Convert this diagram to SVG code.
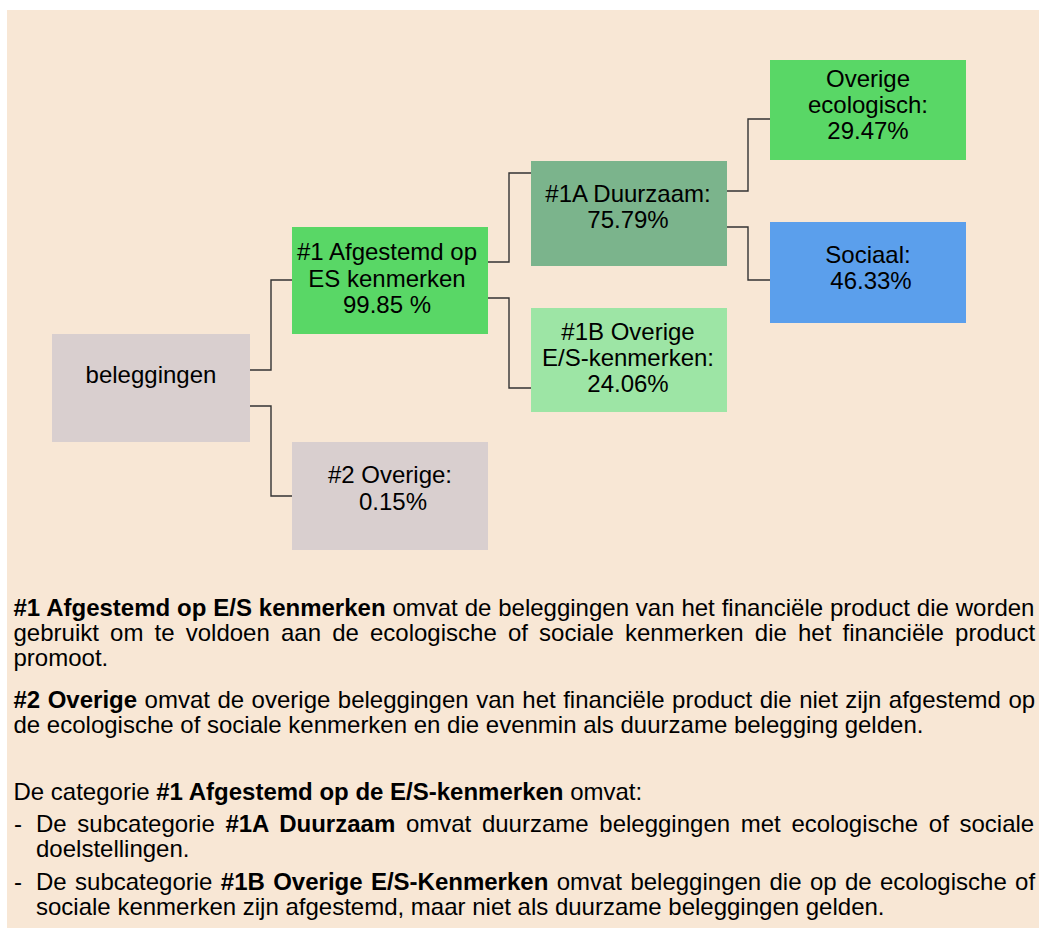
<svg xmlns="http://www.w3.org/2000/svg" width="1039" height="928" viewBox="0 0 1039 928">
<style>
  text { font-family: "Liberation Sans", Arial, sans-serif; fill: #000; }
  .n { font-size: 24px; text-anchor: middle; }
  .p { font-size: 24px; }
  .b { font-weight: bold; }
  .conn path { fill: none; stroke: #333; stroke-width: 1.4; }
</style>
<rect x="0" y="0" width="1039" height="928" fill="#ffffff"/>
<rect x="7" y="10" width="1032" height="918" fill="#F8E7D5"/>

<g id="connectors" class="conn">
  <path d="M250,370 H271 V280 H292"/>
  <path d="M250,406 H271 V496 H292"/>
  <path d="M488,262 H509 V173 H531"/>
  <path d="M488,298 H509 V388 H531"/>
  <path d="M727,191 H748 V119 H770"/>
  <path d="M727,227 H748 V280 H770"/>
</g>

<g id="node-beleggingen">
  <rect x="52" y="334" width="198" height="108" fill="#D9CFCF"/>
  <text class="n" x="151" y="383">beleggingen</text>
</g>
<g id="node-1">
  <rect x="292" y="227" width="196" height="107" fill="#59D766"/>
  <text class="n" x="387" y="260">#1 Afgestemd op</text>
  <text class="n" x="387" y="287">ES kenmerken</text>
  <text class="n" x="387" y="313">99.85 %</text>
</g>
<g id="node-2">
  <rect x="292" y="442" width="196" height="108" fill="#D9CFCF"/>
  <text class="n" x="390" y="483">#2 Overige:</text>
  <text class="n" x="393" y="510">0.15%</text>
</g>
<g id="node-1a">
  <rect x="531" y="161" width="196" height="105" fill="#7BB48C"/>
  <text class="n" x="628" y="202">#1A Duurzaam:</text>
  <text class="n" x="628" y="228">75.79%</text>
</g>
<g id="node-1b">
  <rect x="531" y="308" width="196" height="104" fill="#9DE5A5"/>
  <text class="n" x="628" y="340">#1B Overige</text>
  <text class="n" x="628" y="366">E/S-kenmerken:</text>
  <text class="n" x="628" y="392">24.06%</text>
</g>
<g id="node-ecologisch">
  <rect x="770" y="60" width="196" height="100" fill="#59D766"/>
  <text class="n" x="868" y="87">Overige</text>
  <text class="n" x="868" y="113">ecologisch:</text>
  <text class="n" x="868" y="139">29.47%</text>
</g>
<g id="node-sociaal">
  <rect x="770" y="222" width="196" height="101" fill="#5B9FEC"/>
  <text class="n" x="868" y="263">Sociaal:</text>
  <text class="n" x="871" y="289">46.33%</text>
</g>

<g id="legend">
  <text class="p" x="13.5" y="616" word-spacing="0.2"><tspan class="b">#1 Afgestemd op E/S kenmerken</tspan> omvat de beleggingen van het financiële product die worden</text>
  <text class="p" x="13.5" y="641" word-spacing="4.49">gebruikt om te voldoen aan de ecologische of sociale kenmerken die het financiële product</text>
  <text class="p" x="13.5" y="666">promoot.</text>
  <text class="p" x="13.5" y="708" word-spacing="0.83"><tspan class="b">#2 Overige</tspan> omvat de overige beleggingen van het financiële product die niet zijn afgestemd op</text>
  <text class="p" x="13.5" y="733">de ecologische of sociale kenmerken en die evenmin als duurzame belegging gelden.</text>
  <text class="p" x="13.5" y="800">De categorie <tspan class="b">#1 Afgestemd op de E/S-kenmerken</tspan> omvat:</text>
  <text class="p" x="14" y="832">-</text>
  <text class="p" x="36" y="832" word-spacing="3.99">De subcategorie <tspan class="b">#1A Duurzaam</tspan> omvat duurzame beleggingen met ecologische of sociale</text>
  <text class="p" x="36" y="857">doelstellingen.</text>
  <text class="p" x="14" y="890">-</text>
  <text class="p" x="36" y="890" word-spacing="1.68">De subcategorie <tspan class="b">#1B Overige E/S-Kenmerken</tspan> omvat beleggingen die op de ecologische of</text>
  <text class="p" x="36" y="915">sociale kenmerken zijn afgestemd, maar niet als duurzame beleggingen gelden.</text>
</g>
</svg>
